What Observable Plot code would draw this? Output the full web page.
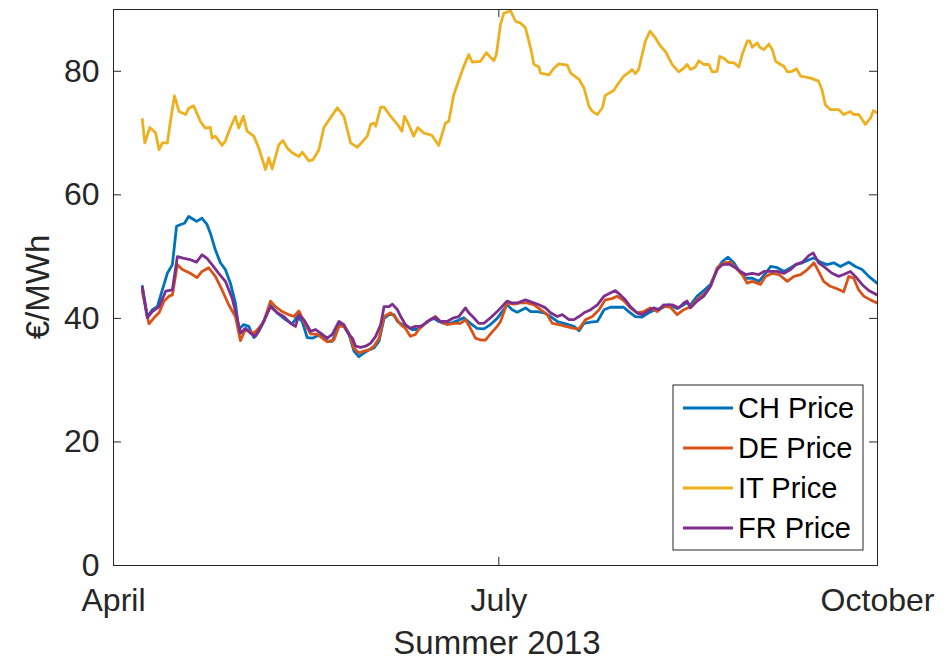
<!DOCTYPE html>
<html>
<head>
<meta charset="utf-8">
<script src="https://cdn.jsdelivr.net/npm/d3@7"></script>
<script src="https://cdn.jsdelivr.net/npm/@observablehq/plot@0.6"></script>
<style>
  html, body { margin: 0; padding: 0; background: #fff; }
  #chart svg { display: block; }
</style>
</head>
<body>
<div id="chart"></div>
<script>
// Day-ahead electricity prices, summer 2013 (moving average, €/MWh).
// x is the number of days since 1 April 2013.
const seriesNames = ["CH Price", "DE Price", "IT Price", "FR Price"];
const seriesColors = ["#0072BD", "#D95319", "#EDB120", "#7E2F8E"];
const xTickDays = [0, 92.3, 183];
const xTickLabels = ["April", "July", "October"];
const yTicks = [0, 20, 40, 60, 80];
const xTitle = "Summer 2013";
const yTitle = "€/MWh";

const chDays = [6.9,8.1,9.3,10.5,11.7,12.9,14.1,15.1,16.1,17.0,18.0,19.2,19.9,21.2,22.4,23.2,24.4,25.6,26.8,28.0,29.2,30.0,31.2,32.4,33.6,34.8,36.0,37.6,39.2,41.2,42.8,44.0,45.2,46.4,47.6,49.6,51.2,52.4,54.0,55.2,56.4,57.6,58.8,60.0,61.2,62.4,63.6,64.8,66.0,67.2,68.0,69.2,70.3,71.5,72.7,73.9,75.1,76.7,77.9,79.1,80.7,82.3,83.9,85.5,87.1,88.7,90.3,91.9,94.3,95.5,96.7,98.7,99.9,101.5,103.1,104.7,106.3,108.3,110.3,111.5,112.7,114.3,115.9,117.5,119.0,120.6,122.2,123.4,125.0,126.6,128.2,129.8,131.4,133.0,135.0,136.6,137.0,138.2,139.8,141.4,143.0,144.6,145.8,147.2,148.6,149.8,151.4,153.0,154.6,156.2,157.4,159.0,160.6,162.2,163.4,165.0,166.6,167.8,169.3,170.9,172.5,174.1,176.1,177.7,179.3,180.9,182.9];
const chPrice = [45.2,40.3,41.4,41.9,44.6,47.3,48.7,54.9,55.2,55.4,56.5,56.0,55.7,56.2,55.2,53.8,51.1,49.0,47.9,45.7,42.5,38.2,39.0,38.7,36.9,37.9,39.5,42.2,40.9,39.8,39.1,40.3,39.5,36.9,36.8,37.4,36.3,36.3,39.0,38.7,37.4,34.7,33.8,34.4,34.9,35.2,36.3,40.0,40.6,40.6,39.5,39.0,38.7,38.2,38.2,38.7,39.5,40.0,39.5,39.2,39.2,39.6,40.1,39.2,38.4,38.3,39.0,40.0,42.2,41.4,41.0,41.7,41.1,41.1,40.9,40.3,39.5,39.1,38.7,38.0,39.2,39.4,39.5,41.4,41.8,41.8,41.8,41.1,40.3,40.2,40.9,41.4,41.7,42.2,41.6,42.2,42.5,42.2,43.6,44.5,45.5,47.9,49.2,49.9,49.0,47.7,46.5,46.5,46.0,47.3,48.4,48.2,47.6,48.2,48.7,49.0,49.5,49.8,49.1,48.7,49.0,48.4,49.1,48.4,47.9,46.8,45.7];

const deDays = [6.9,8.5,9.7,10.9,12.1,13.3,14.1,15.3,16.5,18.4,20.0,21.2,22.8,24.4,26.0,27.6,29.2,30.4,31.6,33.6,34.8,36.0,37.6,38.8,40.4,42.0,43.2,44.4,45.6,47.2,48.8,50.0,51.2,52.8,54.0,55.2,56.4,57.6,58.8,60.0,61.2,62.4,63.6,64.8,66.4,67.6,68.8,69.9,71.1,72.3,73.1,74.7,75.9,77.1,78.3,79.9,81.5,83.1,84.3,85.5,86.7,87.9,89.1,90.3,91.9,92.7,94.3,95.9,97.5,99.1,100.7,102.3,103.9,105.1,106.7,108.3,110.3,111.5,113.1,114.7,116.3,117.8,119.4,120.6,122.2,123.8,125.4,127.0,128.6,130.2,131.8,133.4,135.0,136.6,138.2,140.2,141.8,143.0,144.6,146.2,147.8,149.0,150.6,151.8,153.0,155.0,156.2,157.8,159.4,161.4,163.0,164.6,166.2,167.8,168.9,170.1,171.7,173.3,174.9,176.1,177.3,178.5,179.7,181.3,182.9];
const dePrice = [44.4,39.1,40.1,40.9,42.8,43.6,43.8,48.7,47.9,47.3,46.6,47.6,48.2,46.8,44.6,42.2,40.3,36.4,38.2,37.6,38.4,39.5,42.8,41.9,41.1,40.6,40.3,41.2,39.5,37.5,37.4,36.8,36.2,36.5,38.7,38.7,37.6,35.2,34.4,34.7,34.9,35.5,36.8,40.3,40.9,40.1,39.0,38.4,37.1,37.4,38.2,39.2,39.8,40.3,39.5,39.0,39.2,39.2,39.8,38.4,36.8,36.5,36.5,37.5,38.7,39.5,42.5,42.3,42.5,42.5,42.2,41.4,40.6,39.2,39.0,38.7,38.4,38.3,39.8,40.3,41.4,43.0,43.2,43.6,42.9,41.7,40.9,41.1,41.7,41.1,42.0,41.8,40.6,41.4,41.9,43.3,44.1,45.2,48.2,49.0,49.1,48.2,47.1,45.7,46.0,45.5,46.8,47.3,47.1,46.0,46.8,47.1,47.9,49.0,47.6,46.0,45.2,44.8,44.3,46.8,46.5,44.6,43.6,43.0,42.5];

const itDays = [6.9,7.5,8.7,9.7,10.1,10.9,11.7,12.9,13.7,14.6,15.7,17.3,18.0,19.2,20.8,22.0,23.2,23.6,24.4,26.0,26.8,28.0,29.2,30.0,31.1,32.0,33.6,34.8,36.4,37.2,38.0,39.6,40.6,41.6,42.8,44.4,45.2,46.8,47.8,49.2,50.4,52.0,53.6,55.2,56.8,58.4,60.0,60.8,61.6,62.4,62.8,64.0,64.8,66.4,67.9,69.1,69.7,70.7,71.9,72.9,74.3,75.5,76.3,77.9,79.5,80.3,81.5,83.9,85.1,85.9,87.9,89.3,91.1,91.7,92.7,93.5,95.1,96.3,97.5,98.7,99.9,100.7,101.9,102.3,104.3,105.5,106.7,108.7,109.5,111.5,112.7,113.9,114.7,115.9,117.1,117.8,119.8,121.0,122.2,123.8,124.2,125.0,125.8,127.4,128.5,129.8,131.0,132.2,133.8,135.4,136.6,137.4,138.2,139.4,140.2,141.4,142.6,143.4,144.6,145.2,146.2,147.4,148.6,149.8,150.6,151.8,152.4,153.0,154.2,154.8,155.8,157.0,157.8,158.6,159.8,160.6,161.4,162.6,163.6,164.6,167.0,168.9,169.7,170.5,171.7,173.7,174.9,176.5,177.3,178.5,180.1,181.3,182.0,182.9];
const itPrice = [72.2,68.4,70.9,70.3,70.0,67.3,68.4,68.4,72.2,76.0,73.5,73.0,74.0,74.4,71.9,70.8,70.9,69.2,69.5,68.0,68.7,70.9,72.7,70.8,72.7,70.3,69.5,67.6,64.1,66.0,64.2,68.1,68.8,67.6,66.8,66.2,66.9,65.5,65.7,67.3,70.9,72.5,74.1,72.7,68.4,67.7,68.9,69.5,71.4,71.6,71.1,74.2,74.2,72.7,71.5,70.3,72.7,71.4,69.5,70.9,70.0,69.8,69.6,68.0,71.6,71.9,76.2,80.8,82.7,81.5,81.6,83.0,81.7,82.7,87.6,89.4,89.8,88.1,87.8,87.0,83.8,81.1,80.7,79.7,79.4,80.5,81.2,81.0,79.7,78.7,77.3,74.3,73.5,73.0,74.1,76.1,76.9,78.1,79.2,80.0,80.3,79.6,80.3,84.9,86.5,85.4,84.1,83.2,81.1,79.9,80.5,81.1,80.3,80.7,81.7,81.1,81.1,79.9,80.0,82.4,82.1,81.4,81.4,80.7,82.7,84.9,84.9,83.9,84.6,83.9,83.5,84.4,83.5,81.6,81.1,80.8,79.9,80.0,80.4,79.2,78.9,78.4,77.0,74.6,73.8,73.8,73.0,73.5,73.0,73.0,71.4,72.4,73.6,73.3];

const frDays = [6.9,8.1,9.3,10.9,12.5,14.1,15.3,16.9,18.4,19.9,21.2,22.4,23.6,25.2,26.8,28.4,29.6,30.4,31.6,32.8,34.0,35.6,37.6,39.2,40.8,42.4,43.6,44.4,45.6,46.8,47.2,48.4,49.6,51.2,52.4,54.0,55.2,56.4,57.2,58.0,59.2,60.4,61.6,62.8,64.0,64.8,66.0,66.8,68.0,68.8,69.9,71.1,72.3,73.5,74.7,75.9,77.1,78.3,79.9,81.5,82.7,84.3,85.1,86.3,87.5,88.7,90.3,91.9,94.3,95.5,96.7,98.7,100.3,101.9,103.5,104.7,106.3,107.5,109.1,110.3,111.5,112.7,114.3,115.9,117.5,119.0,120.2,121.4,122.6,123.8,125.4,126.6,127.8,129.4,130.6,131.8,133.8,135.4,136.6,137.4,138.2,139.8,141.4,143.0,144.6,145.8,147.4,149.0,150.2,151.4,153.0,154.6,155.8,157.4,159.0,160.6,162.2,163.4,165.0,166.6,167.6,168.9,170.5,172.1,173.7,174.9,176.5,177.7,179.3,180.9,182.9];
const frPrice = [45.0,40.1,41.1,41.9,44.4,44.6,50.0,49.7,49.5,49.1,50.3,49.7,48.7,47.3,46.0,43.3,40.1,37.6,38.4,37.6,37.1,39.0,41.9,40.9,40.3,39.2,38.7,40.6,39.8,38.4,37.9,38.2,37.6,36.8,37.4,39.5,39.0,37.4,36.8,35.5,35.3,35.5,36.0,37.1,39.0,41.9,41.9,42.3,41.4,40.3,39.0,38.4,38.7,38.7,39.2,39.8,40.2,39.5,39.5,40.1,40.3,41.7,40.9,40.1,39.2,39.2,40.1,41.1,42.8,42.5,42.5,43.0,42.6,42.2,41.7,40.9,40.3,40.6,39.8,39.8,40.3,40.9,41.4,42.2,43.6,44.1,44.5,43.8,43.0,41.9,40.9,40.6,41.1,41.7,41.4,42.2,42.2,41.7,42.5,42.8,41.7,42.8,43.6,45.2,47.9,48.7,48.8,48.2,47.6,47.1,47.3,47.1,47.6,47.6,47.6,47.3,47.9,48.7,49.1,50.2,50.6,49.0,48.2,47.3,46.8,47.1,47.6,46.8,45.5,44.5,43.8];

// Long-format table for the line mark (drawing order: CH, DE, IT, FR).
const seriesData = [[chDays, chPrice], [deDays, dePrice], [itDays, itPrice], [frDays, frPrice]];
const rows = [];
seriesData.forEach(([days, prices], k) => {
  days.forEach((d, i) => rows.push({series: seriesNames[k], day: d, price: prices[i]}));
});

const W = 949, H = 662;
const mL = 113, mR = 72, mT = 9, mB = 97;
const plotW = W - mL - mR, plotH = H - mT - mB;
const tickLen = 8;
const ink = "#262626";
const font = "'Liberation Sans', Arial, Helvetica, sans-serif";

const chart = Plot.plot({
  width: W,
  height: H,
  marginLeft: mL,
  marginRight: mR,
  marginTop: mT,
  marginBottom: mB,
  style: {fontFamily: font, color: ink, background: "#fff"},
  x: {type: "linear", domain: [0, 183], axis: null},
  y: {domain: [0, 90], axis: null},
  color: {domain: seriesNames, range: seriesColors},
  marks: [
    Plot.line(rows, {x: "day", y: "price", z: "series", stroke: "series", strokeWidth: 2.8, clip: true}),
    // inward tick marks on all four sides of the box
    Plot.tickY(yTicks, {y: d => d, stroke: ink, insetRight: plotW - tickLen}),
    Plot.tickY(yTicks, {y: d => d, stroke: ink, insetLeft: plotW - tickLen}),
    Plot.tickX(xTickDays, {x: d => d, stroke: ink, insetTop: plotH - tickLen}),
    Plot.tickX(xTickDays, {x: d => d, stroke: ink, insetBottom: plotH - tickLen}),
    Plot.frame({stroke: ink}),
    Plot.axisY(yTicks, {tickSize: 0, tickPadding: 14, fontSize: 32, label: null}),
    Plot.axisX(xTickDays, {
      tickSize: 0, tickPadding: 23, fontSize: 32, label: null,
      tickFormat: d => xTickLabels[xTickDays.indexOf(d)]
    })
  ]
});

const svg = d3.select(chart);

// Axis titles
const titles = svg.append("g")
  .attr("font-family", font).attr("fill", ink).attr("text-anchor", "middle");
titles.append("text")
  .attr("transform", `translate(${mL - 76},${mT + plotH / 2}) rotate(-90)`)
  .attr("dy", "0.35em").attr("font-size", 33)
  .text(yTitle);
titles.append("text")
  .attr("x", mL + plotW / 2 + 2).attr("y", H - 8)
  .attr("font-size", 33)
  .text(xTitle);

// Boxed legend in the lower-right corner of the axes
const color = chart.scale("color");
const rowH = 40, boxW = 190, boxH = rowH * seriesNames.length + 5;
const boxX = W - mR - 14 - boxW, boxY = H - mB - 15 - boxH;
const legend = svg.append("g")
  .attr("font-family", font).attr("font-size", 29).attr("fill", "#000").attr("text-anchor", "start");
legend.append("rect")
  .attr("x", boxX).attr("y", boxY).attr("width", boxW).attr("height", boxH)
  .attr("fill", "#fff").attr("stroke", ink).attr("stroke-width", 1);
seriesNames.forEach((name, i) => {
  const cy = boxY + 23 + i * rowH;
  legend.append("line")
    .attr("x1", boxX + 10).attr("x2", boxX + 60).attr("y1", cy).attr("y2", cy)
    .attr("stroke", color.apply(name)).attr("stroke-width", 2.8);
  legend.append("text")
    .attr("x", boxX + 65).attr("y", cy).attr("dy", "0.35em")
    .text(name);
});

document.getElementById("chart").appendChild(chart);
</script>
</body>
</html>
